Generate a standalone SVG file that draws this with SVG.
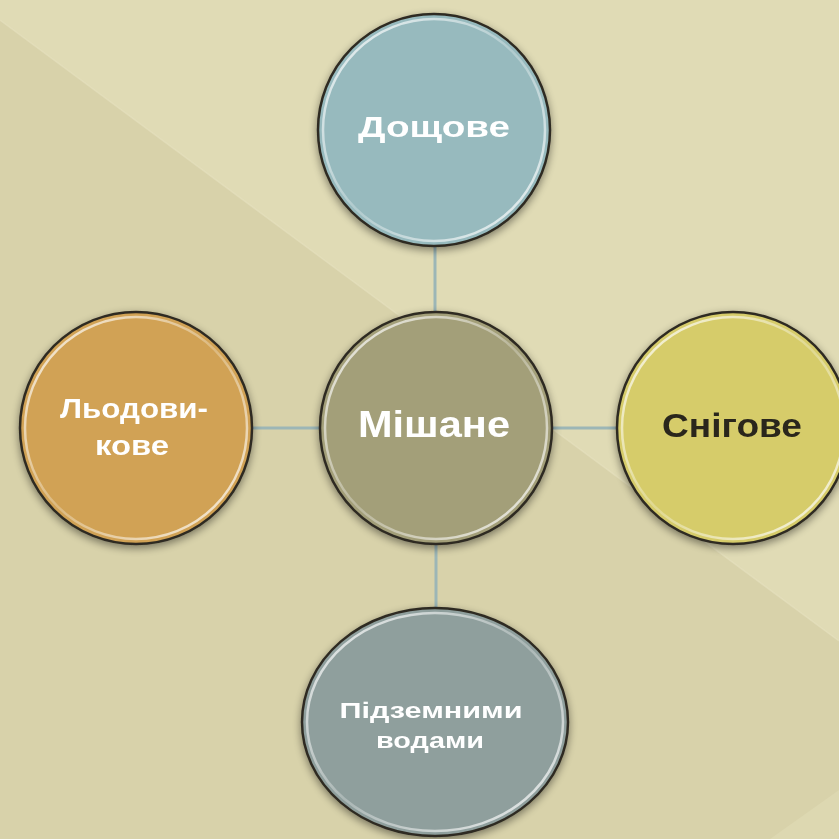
<svg xmlns="http://www.w3.org/2000/svg" width="839" height="839" viewBox="0 0 839 839">
  <defs>
    <filter id="shadow" x="-20%" y="-20%" width="140%" height="140%">
      <feGaussianBlur in="SourceAlpha" stdDeviation="4"/>
      <feOffset dx="0" dy="3" result="b"/>
      <feComponentTransfer><feFuncA type="linear" slope="0.45"/></feComponentTransfer>
      <feMerge><feMergeNode/><feMergeNode in="SourceGraphic"/></feMerge>
    </filter>
    <linearGradient id="ringGrad" x1="0" y1="0" x2="1" y2="1">
      <stop offset="0" stop-color="#ffffff" stop-opacity="0.85"/>
      <stop offset="0.5" stop-color="#ffffff" stop-opacity="0.25"/>
      <stop offset="1" stop-color="#ffffff" stop-opacity="0.85"/>
    </linearGradient>
  </defs>
  <style>
    .outline { stroke: #2f2c22; stroke-width: 2.5; }
    .ring { fill: none; stroke: url(#ringGrad); stroke-width: 2.5; }
    .conn { stroke: #9cb6b6; stroke-width: 3; fill: none; }
    .lbl { font-family: "Liberation Sans", "DejaVu Sans", sans-serif; font-weight: bold; text-anchor: middle; fill: #ffffff; }
    .dark { fill: #2a281c; }
  </style>

  <!-- background -->
  <rect x="0" y="0" width="839" height="839" fill="#e0dbb5"/>
  <polygon points="0,20 839,641 839,839 0,839" fill="#d8d2aa"/>
  <line x1="0" y1="20" x2="839" y2="641" stroke="#e6e1c0" stroke-width="1.5" stroke-opacity="0.6"/>
  <polygon points="770,839 839,790 839,839" fill="#ddd8b1"/>

  <!-- connectors -->
  <g id="connectors">
    <line class="conn" x1="435" y1="246" x2="435" y2="313"/>
    <line class="conn" x1="251" y1="428" x2="321" y2="428"/>
    <line class="conn" x1="551" y1="428" x2="618" y2="428"/>
    <line class="conn" x1="436" y1="543" x2="436" y2="609"/>
  </g>

  <!-- top node -->
  <g id="node-doshchove" filter="url(#shadow)">
    <circle cx="434" cy="130" r="116" fill="#97babe" class="outline"/>
    <circle cx="434" cy="130" r="111" class="ring"/>
    <text class="lbl" x="434" y="137" font-size="30" textLength="152" lengthAdjust="spacingAndGlyphs">Дощове</text>
  </g>

  <!-- center node -->
  <g id="node-mishane" filter="url(#shadow)">
    <circle cx="436" cy="428" r="116" fill="#a39f79" class="outline"/>
    <circle cx="436" cy="428" r="111" class="ring"/>
    <text class="lbl" x="434" y="437" font-size="36" textLength="152" lengthAdjust="spacingAndGlyphs">Мішане</text>
  </g>

  <!-- right node -->
  <g id="node-snihove" filter="url(#shadow)">
    <circle cx="733" cy="428" r="116" fill="#d6cc6b" class="outline"/>
    <circle cx="733" cy="428" r="111" class="ring"/>
    <text class="lbl dark" x="732" y="437" font-size="33" textLength="140" lengthAdjust="spacingAndGlyphs">Снігове</text>
  </g>

  <!-- left node -->
  <g id="node-lodovykove" filter="url(#shadow)">
    <circle cx="136" cy="428" r="116" fill="#d1a254" class="outline"/>
    <circle cx="136" cy="428" r="111" class="ring"/>
    <text class="lbl" x="134" y="418" font-size="27" textLength="148" lengthAdjust="spacingAndGlyphs">Льодови-</text>
    <text class="lbl" x="132" y="455" font-size="27" textLength="74" lengthAdjust="spacingAndGlyphs">кове</text>
  </g>

  <!-- bottom node -->
  <g id="node-pidzemnymy" filter="url(#shadow)">
    <ellipse cx="435" cy="722" rx="133" ry="114" fill="#8f9f9d" class="outline"/>
    <ellipse cx="435" cy="722" rx="128" ry="109" class="ring"/>
    <text class="lbl" x="431" y="718" font-size="22" textLength="183" lengthAdjust="spacingAndGlyphs">Підземними</text>
    <text class="lbl" x="430" y="748" font-size="22" textLength="108" lengthAdjust="spacingAndGlyphs">водами</text>
  </g>
</svg>
